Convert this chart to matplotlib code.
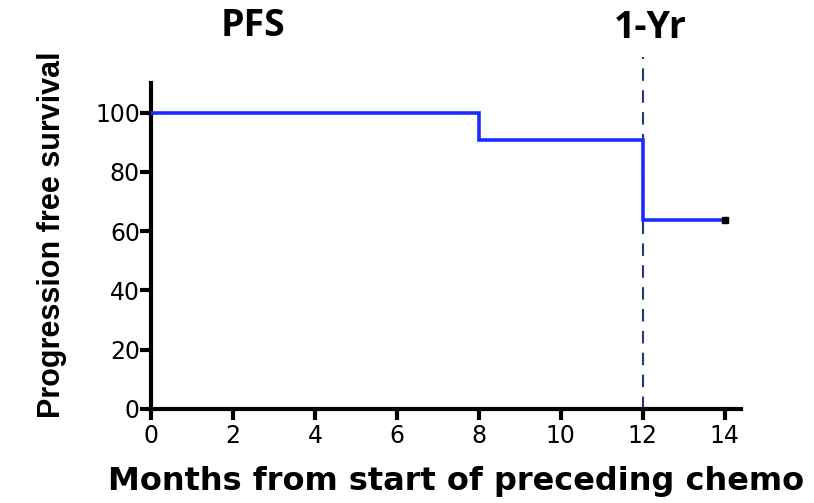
import matplotlib.pyplot as plt
import numpy as np

plt.rcParams['font.family'] = ['Liberation Sans', 'DejaVu Sans']

# Kaplan-Meier step data (months, % progression free)
months = [0, 8, 12, 14]
pfs = [100, 90.9, 63.6, 63.6]
censor_months = [14]
censor_pfs = [63.6]
one_year = 12

xticks = [0, 2, 4, 6, 8, 10, 12, 14]
yticks = [0, 20, 40, 60, 80, 100]

fig = plt.figure(figsize=(8.14, 5.03), dpi=100)
ax = fig.add_axes([0.1855, 0.187, 0.725, 0.648])

ax.step(months, pfs, where='post', color='#1a2cff', lw=2.6, solid_joinstyle='miter', zorder=3)
ax.plot(censor_months, censor_pfs, marker='s', color='black', ms=4, ls='none', zorder=4)
ax.axvline(one_year, ymin=0, ymax=1.08, color='#1f3a78', lw=1.5, ls=(0, (6, 4.5)),
           clip_on=False, zorder=2)

ax.set_xlim(0, 14.4)
ax.set_ylim(0, 110)
ax.set_xticks(xticks)
ax.set_yticks(yticks)
ax.spines['top'].set_visible(False)
ax.spines['right'].set_visible(False)
ax.spines['left'].set_linewidth(3)
ax.spines['bottom'].set_linewidth(3)
ax.tick_params(width=3, length=8)
ax.tick_params(axis='x', pad=3)
ax.tick_params(axis='y', pad=0)
for lab in ax.get_xticklabels() + ax.get_yticklabels():
    lab.set_family('DejaVu Sans')
    lab.set_fontsize(17)

ax.set_ylabel('Progression free survival', fontsize=22, fontweight='bold')
ax.yaxis.set_label_coords(-0.143, 0.534)
ax.set_xlabel('Months from start of preceding chemo', fontsize=23, fontweight='bold',
              family='DejaVu Sans')
ax.xaxis.set_label_coords(0.517, -0.175)

fig.text(0.311, 0.948, 'PFS', fontsize=27, fontweight='bold', family='Open Sans',
         ha='center', va='center')
fig.text(0.799, 0.944, '1-Yr', fontsize=27, fontweight='bold', family='Open Sans',
         ha='center', va='center')

fig.savefig('out.png', dpi=100, facecolor='white')
